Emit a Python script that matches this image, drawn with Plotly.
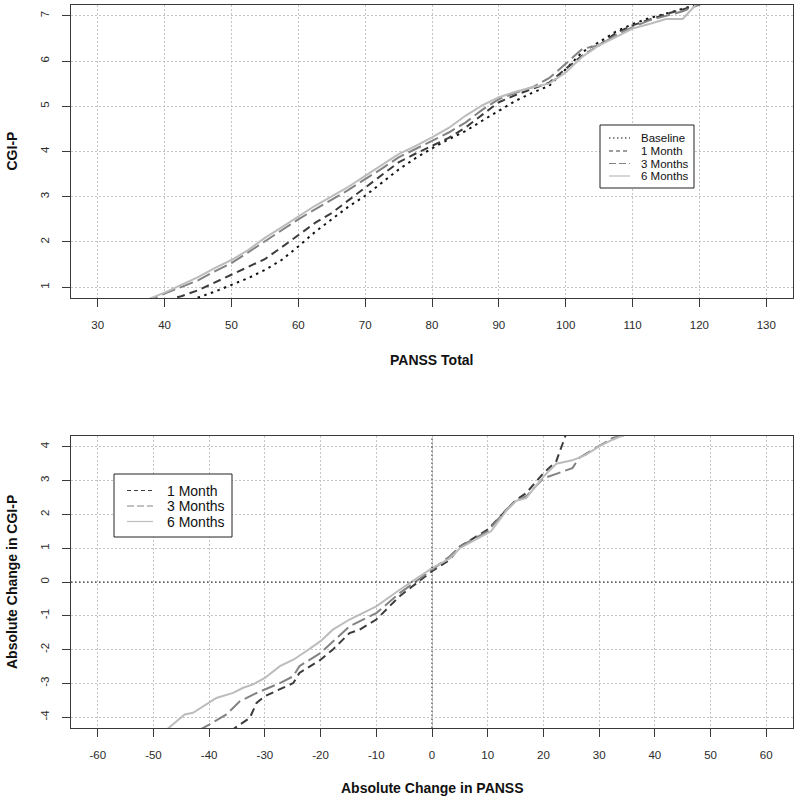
import plotly.graph_objects as go

# ---------------- Data: top panel (PANSS Total vs CGI-P) ----------------
base_x = [43, 45, 47.5, 50, 52.5, 55, 57.5, 60, 62.5, 65, 67.5, 70, 72.5, 75, 77.5, 80, 82.5, 85,
          87.5, 90, 92.5, 95, 97.5, 100, 102.5, 105, 107.5, 110, 112.5, 115, 117.5, 120, 122]
base_y = [0.65, 0.77, 0.9, 1.05, 1.2, 1.38, 1.6, 1.9, 2.22, 2.5, 2.78, 3.02, 3.3, 3.6, 3.85, 4.07,
          4.27, 4.45, 4.68, 4.9, 5.12, 5.3, 5.45, 5.82, 6.2, 6.42, 6.65, 6.82, 6.95, 7.05, 7.15, 7.25, 7.35]

m1_x = [40, 42.5, 45, 47.5, 50, 52.5, 55, 57.5, 60, 62.5, 65, 67.5, 70, 72.5, 75, 77.5, 80, 82.5, 85,
        87.5, 90, 92.5, 95, 97.5, 100, 102.5, 105, 107.5, 110, 112.5, 115, 117.5, 120, 122]
m1_y = [0.7, 0.8, 0.93, 1.1, 1.27, 1.45, 1.62, 1.88, 2.16, 2.42, 2.64, 2.92, 3.2, 3.48, 3.76, 3.95,
        4.13, 4.3, 4.53, 4.82, 5.09, 5.25, 5.39, 5.52, 5.83, 6.12, 6.35, 6.62, 6.79, 6.92, 7.04, 7.14,
        7.25, 7.35]

m3_x = [37, 40, 42.5, 45, 47.5, 50, 52.5, 55, 57.5, 60, 62.5, 65, 67.5, 70, 72.5, 75, 77.5, 80, 82.5,
        85, 87.5, 90, 92.5, 95, 97.5, 100, 102.5, 105, 107.5, 110, 112.5, 115, 117.5, 120, 122]
m3_y = [0.68, 0.86, 1.0, 1.15, 1.35, 1.53, 1.77, 2.02, 2.25, 2.5, 2.72, 2.94, 3.15, 3.39, 3.62, 3.87,
        4.05, 4.24, 4.42, 4.64, 4.92, 5.16, 5.3, 5.42, 5.62, 5.94, 6.27, 6.35, 6.57, 6.75, 6.9, 7.0,
        7.1, 7.25, 7.35]

m6_x = [37, 40, 42.5, 45, 47.5, 50, 52.5, 55, 57.5, 60, 62.5, 65, 67.5, 70, 72.5, 75, 77.5, 80, 82.5,
        85, 87.5, 90, 92.5, 95, 97.5, 100, 102.5, 105, 107.5, 110, 112.5, 115, 117.5, 119.5, 122]
m6_y = [0.7, 0.88, 1.05, 1.22, 1.42, 1.6, 1.82, 2.09, 2.32, 2.57, 2.8, 3.01, 3.22, 3.46, 3.7, 3.94,
        4.12, 4.31, 4.52, 4.79, 5.02, 5.2, 5.32, 5.42, 5.5, 5.75, 6.1, 6.35, 6.53, 6.72, 6.82, 6.93,
        6.93, 7.25, 7.4]

# ---------------- Data: bottom panel (change scores) ----------------
d1_x = [-36, -35.4, -32.7, -31.5, -30, -27.3, -24.9, -23.8, -20, -17.8, -14.8, -13, -10, -5.8, 0,
        3.2, 5, 10, 13.3, 15.1, 16.9, 20, 22.3, 24, 25]
d1_y = [-4.45, -4.32, -4.02, -3.58, -3.38, -3.18, -2.99, -2.69, -2.3, -2.0, -1.51, -1.41, -1.11,
        -0.42, 0.32, 0.66, 1.05, 1.55, 2.14, 2.43, 2.63, 3.22, 3.57, 4.33, 4.8]

d3_x = [-42, -41, -40, -36.9, -34.5, -32.1, -30, -27.3, -24.9, -23.8, -20, -14.8, -10, -5.8, 0, 3.2,
        5, 10, 13.3, 15.1, 17, 20, 22.3, 25.2, 26.4, 30, 32.4, 34.2, 36]
d3_y = [-4.4, -4.32, -4.22, -3.92, -3.53, -3.33, -3.18, -2.99, -2.79, -2.49, -2.1, -1.31, -0.92,
        -0.33, 0.36, 0.76, 1.05, 1.5, 2.14, 2.4, 2.55, 3.07, 3.2, 3.37, 3.67, 4.01, 4.26, 4.33, 4.45]

d6_x = [-48, -47.3, -44.4, -42.9, -40, -38.7, -35.7, -33.9, -32.1, -30, -27.3, -24.9, -22.6, -20,
        -17.8, -14.8, -10, -5.8, 0, 3.2, 5, 10, 10.6, 13.3, 15.1, 16.9, 20, 22.3, 25.2, 27.6, 30,
        32.4, 34.2, 36]
d6_y = [-4.42, -4.32, -3.92, -3.87, -3.58, -3.43, -3.28, -3.13, -3.03, -2.84, -2.49, -2.3, -2.05,
        -1.75, -1.41, -1.11, -0.72, -0.23, 0.41, 0.7, 1.0, 1.45, 1.5, 2.1, 2.4, 2.48, 3.12, 3.5,
        3.6, 3.76, 4.01, 4.21, 4.33, 4.45]

top_ticks = [30, 40, 50, 60, 70, 80, 90, 100, 110, 120, 130]
top_yticks = [1, 2, 3, 4, 5, 6, 7]
bot_ticks = [-60, -50, -40, -30, -20, -10, 0, 10, 20, 30, 40, 50, 60]
bot_yticks = [-4, -3, -2, -1, 0, 1, 2, 3, 4]

top_names = ["Baseline", "1 Month", "3 Months", "6 Months"]
bot_names = ["1 Month", "3 Months", "6 Months"]

FONT = "Liberation Sans, Arial, Helvetica, sans-serif"
STYLE = {
    "Baseline": dict(color="#111111", dash="2.5px,4.5px", ldash="1.5px,2.5px"),
    "1 Month": dict(color="#3c3c3c", dash="8px,5px", ldash="4px,3px"),
    "3 Months": dict(color="#838383", dash="14px,5px", ldash="7px,3px"),
    "6 Months": dict(color="#bcbcbc", dash="solid", ldash="solid"),
}

W, H = 800, 803
ML, MR, MT, MB = 71, 7, 5, 75
PW, PH = W - ML - MR, H - MT - MB


def px_x(x):
    return (x - ML) / PW


def px_y(y):
    return (H - MB - y) / PH


fig = go.Figure()

for nm, xs, ys in zip(top_names, [base_x, m1_x, m3_x, m6_x], [base_y, m1_y, m3_y, m6_y]):
    fig.add_trace(go.Scatter(x=xs, y=ys, mode="lines", name=nm, showlegend=False,
                             line=dict(color=STYLE[nm]["color"], width=2, dash=STYLE[nm]["dash"]),
                             xaxis="x", yaxis="y"))

for nm, xs, ys in zip(bot_names, [d1_x, d3_x, d6_x], [d1_y, d3_y, d6_y]):
    fig.add_trace(go.Scatter(x=xs, y=ys, mode="lines", name=nm, showlegend=False,
                             line=dict(color=STYLE[nm]["color"], width=2, dash=STYLE[nm]["dash"]),
                             xaxis="x2", yaxis="y2"))

axis_common = dict(
    showline=True, linecolor="#3a3a3a", linewidth=1, mirror=True, automargin=False,
    ticks="outside", ticklen=8, tickcolor="#3a3a3a", tickwidth=1,
    showgrid=True, gridcolor="#c4c4c4", griddash="1.5px,2.5px", gridwidth=1,
    zeroline=False, tickfont=dict(family=FONT, size=11.5, color="#2a2a2a"),
)


def lbl(v):
    return [str(t) for t in v]


fig.update_layout(
    width=W, height=H,
    margin=dict(l=ML, r=MR, t=MT, b=MB, autoexpand=False),
    paper_bgcolor="white", plot_bgcolor="white",
    font=dict(family=FONT, color="#111111"),
    showlegend=False,
    xaxis=dict(axis_common, domain=[0, 1], anchor="y", range=[26, 134],
               tickvals=top_ticks, ticktext=lbl(top_ticks), ticklabelstandoff=8),
    yaxis=dict(axis_common, domain=[px_y(298), 1], anchor="x", range=[0.76, 7.24],
               tickvals=top_yticks, ticktext=lbl(top_yticks), tickangle=-90, ticklabelstandoff=8),
    xaxis2=dict(axis_common, domain=[0, 1], anchor="y2", range=[-64.8, 64.8],
                tickvals=bot_ticks, ticktext=lbl(bot_ticks), ticklabelstandoff=8),
    yaxis2=dict(axis_common, domain=[0, px_y(436)], anchor="x2", range=[-4.32, 4.32],
                tickvals=bot_yticks, ticktext=lbl(bot_yticks), tickangle=-90, ticklabelstandoff=8),
)

# zero reference lines in bottom panel
fig.add_shape(type="line", xref="x2", yref="y2 domain", x0=0, x1=0, y0=0, y1=1,
              line=dict(color="#111111", width=1, dash="1.5px,2.5px"))
fig.add_shape(type="line", xref="x2 domain", yref="y2", x0=0, x1=1, y0=0, y1=0,
              line=dict(color="#111111", width=1, dash="1.5px,2.5px"))


# manual legends (box + line samples + text), positioned in pixels
def legend(box, names, rows, sample_x, text_x, size):
    x0, y0, x1, y1 = box
    fig.add_shape(type="rect", xref="paper", yref="paper",
                  x0=px_x(x0), x1=px_x(x1), y0=px_y(y1), y1=px_y(y0),
                  line=dict(color="#222222", width=1), fillcolor="white", layer="above")
    for nm, ry in zip(names, rows):
        st = STYLE[nm]
        fig.add_shape(type="line", xref="paper", yref="paper",
                      x0=px_x(sample_x[0]), x1=px_x(sample_x[1]), y0=px_y(ry), y1=px_y(ry),
                      line=dict(color=st["color"], width=1.2, dash=st["ldash"]), layer="above")
        fig.add_annotation(text=nm, xref="paper", yref="paper", x=px_x(text_x), y=px_y(ry),
                           xanchor="left", yanchor="middle", showarrow=False,
                           font=dict(family=FONT, size=size, color="#111111"))


legend((600, 125, 694, 188), top_names, [138, 151, 163.5, 176], (609, 630), 639, 11.5)
legend((114, 474, 232, 537), bot_names, [490.5, 506, 521.5], (127, 153), 165, 14)

# axis titles
title_font = dict(family=FONT, size=14, color="#111111")
fig.add_annotation(text="<b>PANSS Total</b>", xref="paper", yref="paper", x=0.5, y=px_y(360),
                   showarrow=False, font=title_font, xanchor="center", yanchor="middle")
fig.add_annotation(text="<b>CGI-P</b>", xref="paper", yref="paper", x=px_x(12), y=px_y(151.5),
                   showarrow=False, font=title_font, textangle=-90,
                   xanchor="center", yanchor="middle")
fig.add_annotation(text="<b>Absolute Change in PANSS</b>", xref="paper", yref="paper", x=0.5,
                   y=px_y(788), showarrow=False, font=title_font, xanchor="center", yanchor="middle")
fig.add_annotation(text="<b>Absolute Change in CGI-P</b>", xref="paper", yref="paper",
                   x=px_x(12), y=px_y(582), showarrow=False, font=title_font, textangle=-90,
                   xanchor="center", yanchor="middle")

fig.write_html(
    "out.html",
    config={"displayModeBar": False},
    post_script="document.body.style.margin='0';document.body.style.overflow='hidden';",
)
